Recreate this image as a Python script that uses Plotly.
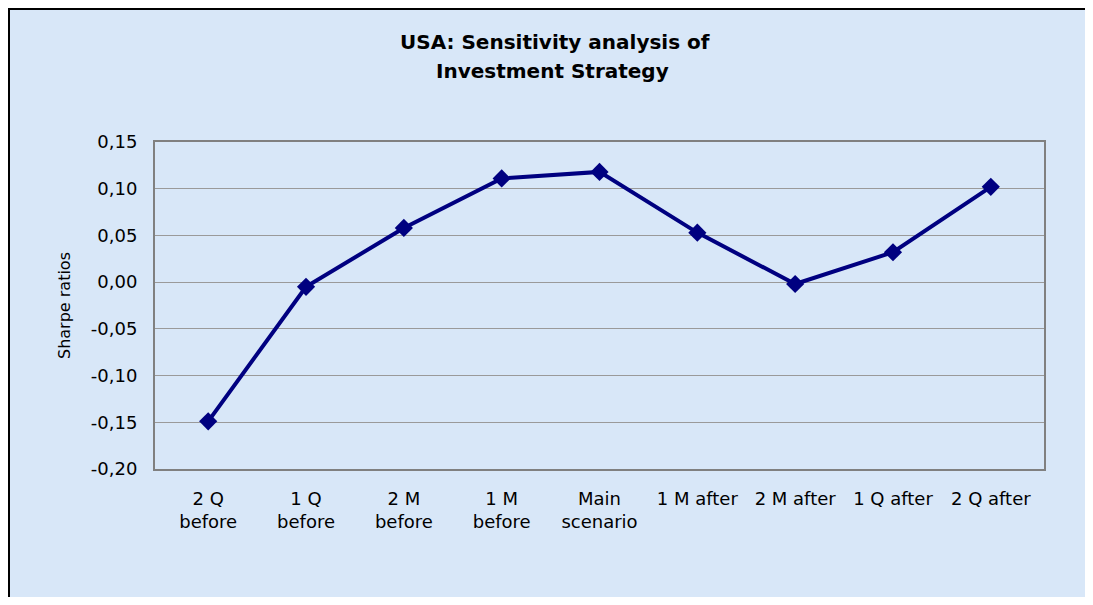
import plotly.graph_objects as go

categories = ["2 Q before", "1 Q before", "2 M before", "1 M before", "Main scenario",
              "1 M after", "2 M after", "1 Q after", "2 Q after"]
tick_labels = ["2 Q<br>before", "1 Q<br>before", "2 M<br>before", "1 M<br>before", "Main<br>scenario",
               "1 M after", "2 M after", "1 Q after", "2 Q after"]
sharpe = [-0.149, -0.005, 0.058, 0.111, 0.118, 0.053, -0.002, 0.032, 0.102]
y_ticks = [-0.20, -0.15, -0.10, -0.05, 0.00, 0.05, 0.10, 0.15]
y_tick_text = ["-0,20", "-0,15", "-0,10", "-0,05", "0,00", "0,05", "0,10", "0,15"]

# page has an 8px body margin; figure sized to fit the window
OFF = 8
W, H = 1093 - 2 * OFF, 605 - 2 * OFF
# plot area in page pixels
PL, PT, PR, PB = 155, 142, 1044, 469
L, T = PL - OFF, PT - OFF
R, B = W - (PR - OFF), H - (PB - OFF)
pw, ph = PR - PL, PB - PT

def px_x(x):  # page x -> paper
    return (x - PL) / pw

def px_y(y):  # page y -> paper
    return (PB - y) / ph

BG = "#d8e7f8"
FONT = "DejaVu Sans"

fig = go.Figure()
fig.add_trace(go.Scatter(
    x=categories, y=sharpe, mode="lines+markers",
    line=dict(color="#000080", width=4),
    marker=dict(symbol="diamond", size=14, color="#000080"),
    showlegend=False,
))

fig.update_layout(
    width=W, height=H,
    margin=dict(l=L, r=R, t=T, b=B),
    paper_bgcolor=BG, plot_bgcolor=BG,
    font=dict(family=FONT, size=18, color="#000000"),
    xaxis=dict(
        type="category", tickvals=categories, ticktext=tick_labels,
        showgrid=False, showline=True, mirror=True, linecolor="#808080", linewidth=2,
        ticks="", tickfont=dict(family=FONT, size=18), ticklabelstandoff=12,
        zeroline=False,
    ),
    yaxis=dict(
        range=[-0.20, 0.15], tickvals=y_ticks, ticktext=y_tick_text,
        showgrid=True, gridcolor="#9a9a9a", gridwidth=1,
        showline=True, mirror=True, linecolor="#808080", linewidth=2,
        ticks="", tickfont=dict(family=FONT, size=18), ticklabelstandoff=12,
        zeroline=False,
        title=dict(text="Sharpe ratios", font=dict(family=FONT, size=16), standoff=16),
    ),
    annotations=[
        dict(text="<b>USA: Sensitivity analysis of</b>", xref="paper", yref="paper",
             x=px_x(555), y=px_y(42), xanchor="center", yanchor="middle", showarrow=False,
             font=dict(family=FONT, size=20)),
        dict(text="<b>Investment Strategy</b>", xref="paper", yref="paper",
             x=px_x(552), y=px_y(71), xanchor="center", yanchor="middle", showarrow=False,
             font=dict(family=FONT, size=20)),
    ],
    shapes=[
        dict(type="line", xref="paper", yref="paper", x0=px_x(OFF + 1), x1=px_x(OFF + 1),
             y0=px_y(OFF), y1=px_y(OFF + H), line=dict(color="#000000", width=2)),
        dict(type="line", xref="paper", yref="paper", x0=px_x(OFF), x1=px_x(OFF + W),
             y0=px_y(OFF + 1), y1=px_y(OFF + 1), line=dict(color="#000000", width=2)),
    ],
)

fig.write_html("out.html")
